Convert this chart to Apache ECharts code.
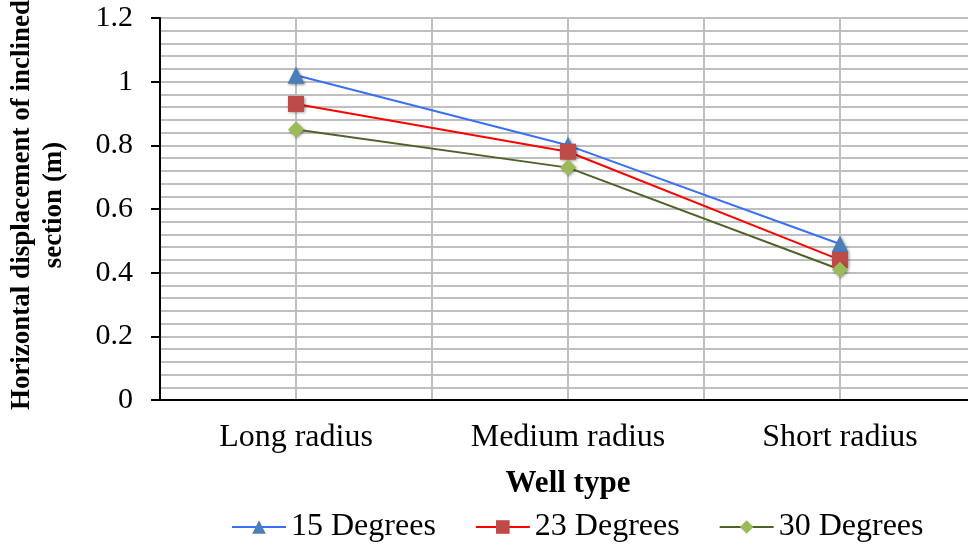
<!DOCTYPE html>
<html>
<head>
<meta charset="utf-8">
<script src="https://cdn.jsdelivr.net/npm/echarts@6/dist/echarts.min.js"></script>
<style>
  html, body { margin: 0; padding: 0; background: #fff; }
  #chart { width: 968px; height: 547px; }
</style>
</head>
<body>
<div id="chart"></div>
<script>
const wellTypes = ["Long radius", "Medium radius", "Short radius"];
const deg15 = [1.02, 0.80, 0.49];
const deg23 = [0.93, 0.78, 0.44];
const deg30 = [0.85, 0.73, 0.41];

const fontSerif = "'Liberation Serif', 'Times New Roman', serif";
const gridGrey = "#bfbfbf";

const markerShadow = {
    shadowBlur: 3,
    shadowColor: "rgba(0,0,0,0.45)",
    shadowOffsetX: 1,
    shadowOffsetY: 1
};

function makeSeries(name, data, lineColor, markerColor, symbol, size) {
    return {
        name: name,
        type: "line",
        data: data,
        symbol: symbol,
        symbolSize: size,
        lineStyle: { color: lineColor, width: 2 },
        itemStyle: Object.assign({ color: markerColor }, markerShadow),
        xAxisIndex: 0,
        yAxisIndex: 0
    };
}

const chart = echarts.init(document.getElementById("chart"));
chart.setOption({
    animation: false,
    grid: {
        left: 160,
        right: -8,
        top: 18,
        bottom: 147,
        containLabel: false,
        outerBoundsMode: "none"
    },
    legend: {
        top: 506,
        left: 226,
        itemWidth: 54,
        itemHeight: 17,
        itemGap: 39,
        textStyle: {
            fontFamily: fontSerif,
            fontSize: 32,
            color: "#000"
        },
        data: ["15 Degrees", "23 Degrees", "30 Degrees"]
    },
    xAxis: [
        {
            type: "category",
            data: wellTypes,
            boundaryGap: true,
            name: "Well type",
            nameLocation: "middle",
            nameGap: 68,
            nameTextStyle: {
                fontFamily: fontSerif,
                fontSize: 31,
                fontWeight: "bold",
                color: "#000"
            },
            axisLine: { lineStyle: { color: "#000", width: 2 } },
            axisTick: { alignWithLabel: true, length: 7, lineStyle: { color: "#000", width: 2 } },
            axisLabel: {
                fontFamily: fontSerif,
                fontSize: 32,
                color: "#000",
                margin: 22
            },
            splitLine: { show: false }
        },
        {
            // vertical grid lines at category centres and boundaries
            type: "value",
            min: 0,
            max: 6,
            interval: 1,
            position: "bottom",
            axisLine: { show: false },
            axisTick: { show: false },
            axisLabel: { show: false },
            splitLine: { show: true, lineStyle: { color: gridGrey, width: 2 } }
        }
    ],
    yAxis: {
        type: "value",
        min: 0,
        max: 1.2,
        interval: 0.2,
        name: "Horizontal displacement of inclined\nsection (m)",
        nameLocation: "middle",
        nameGap: 90,
        nameTextStyle: {
            fontFamily: fontSerif,
            fontSize: 27,
            fontWeight: "bold",
            color: "#000",
            lineHeight: 32,
            padding: [0, 0, 0, 8]
        },
        axisLine: { show: true, lineStyle: { color: "#000", width: 2 } },
        axisTick: { show: true, length: 9, lineStyle: { color: "#000", width: 2 } },
        axisLabel: {
            fontFamily: fontSerif,
            fontSize: 30,
            color: "#000",
            margin: 27,
            formatter: v => String(+v.toFixed(1))
        },
        splitLine: { show: true, lineStyle: { color: gridGrey, width: 2 } },
        minorTick: { show: false, splitNumber: 5 },
        minorSplitLine: { show: true, lineStyle: { color: gridGrey, width: 2 } }
    },
    series: [
        makeSeries("15 Degrees", deg15, "#3a6ff7", "#4a7ebb", "triangle", 17),
        makeSeries("23 Degrees", deg23, "#ff0000", "#be4b48", "rect", 16),
        makeSeries("30 Degrees", deg30, "#4f6228", "#9bbb59", "diamond", 16)
    ]
});
</script>
</body>
</html>
